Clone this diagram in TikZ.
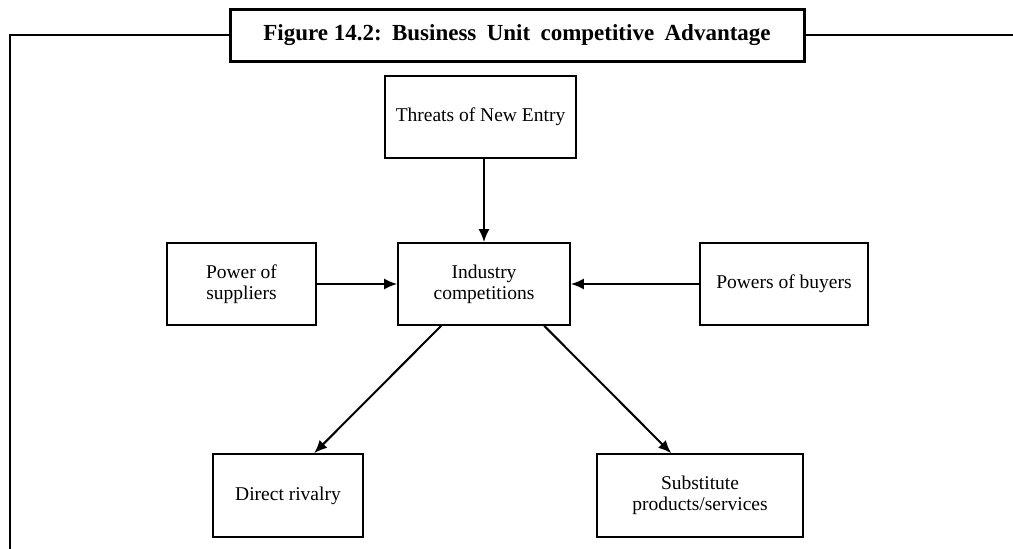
\documentclass[tikz,border=0pt]{standalone}
\usepackage{fontspec}
\setmainfont{Liberation Serif}
\usetikzlibrary{arrows.meta}
\begin{document}
\begin{tikzpicture}[x=1pt,y=-1pt,
  box/.style={draw=black,line width=1.6pt,inner sep=0pt,align=center,
    font=\fontsize{19.5}{21}\selectfont},
  titlebox/.style={draw=black,line width=3pt,inner sep=0pt,align=center,
    font=\fontsize{23}{25}\selectfont\bfseries},
  conn/.style={line width=2pt,-{Latex[length=13pt,width=11pt]}},
  frame/.style={line width=2.2pt}]
\useasboundingbox (0,0) rectangle (1013,549);
\node[titlebox,minimum width=574pt,minimum height=52pt] (title) at (517,35) {Figure 14.2:\hspace{0.45em}Business\hspace{0.45em}Unit\hspace{0.45em}competitive\hspace{0.45em}Advantage};
\node[box,minimum width=191pt,minimum height=82pt] (thr) at (480.5,117) {Threats of New Entry};
\node[box,minimum width=172pt,minimum height=82pt] (ind) at (484,284) {Industry\\competitions};
\node[box,minimum width=149pt,minimum height=82pt] (sup) at (241.5,284) {Power of\\suppliers};
\node[box,minimum width=168pt,minimum height=82pt] (buy) at (784,284) {Powers of buyers};
\node[box,minimum width=150pt,minimum height=83pt] (riv) at (288,495.5) {Direct rivalry};
\node[box,minimum width=206pt,minimum height=83pt] (subs) at (700,495.5) {Substitute\\products/services};
\coordinate (fl) at (10,35);
\coordinate (fb) at (10,549);
\coordinate (fr) at (1013,35);
\draw[frame] (title.west) -- (fl) -- (fb);
\draw[frame] (title.east) -- (fr);
\draw[conn] ([xshift=3.5pt]thr.south) -- (ind.north);
\draw[conn] (sup.east) -- (ind.west);
\draw[conn] (buy.west) -- (ind.east);
\draw[conn] ([xshift=44pt]ind.south west) -- ([xshift=102pt]riv.north west);
\draw[conn] ([xshift=147pt]ind.south west) -- ([xshift=75pt]subs.north west);
\end{tikzpicture}
\end{document}
